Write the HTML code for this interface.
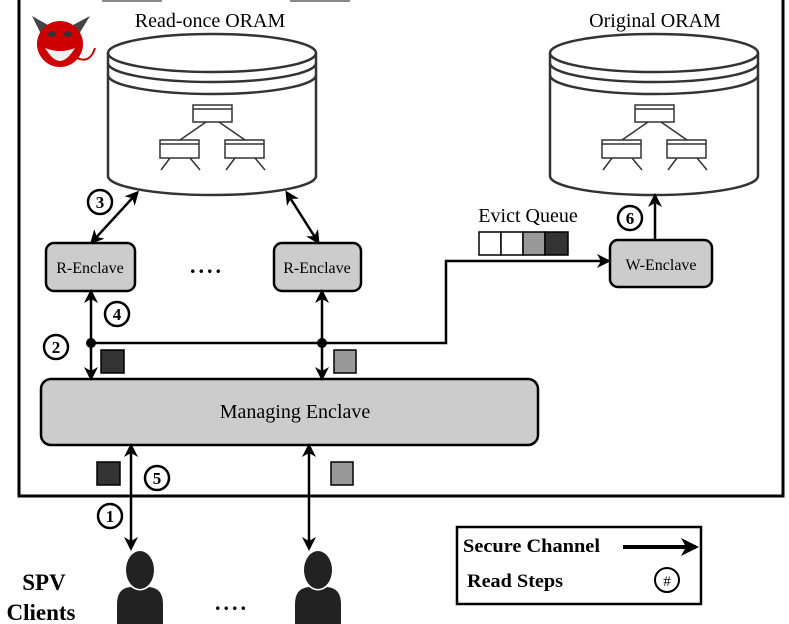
<!DOCTYPE html>
<html><head><meta charset="utf-8"><style>
body{margin:0;background:#fff}
svg{display:block;font-family:"Liberation Serif",serif}
</style></head><body>
<svg width="789" height="624" viewBox="0 0 789 624" xmlns="http://www.w3.org/2000/svg">
<defs>
<marker id="a" markerWidth="14" markerHeight="14" refX="11" refY="7" orient="auto-start-reverse" markerUnits="userSpaceOnUse"><path d="M0,0 L14,7 L0,14 L4,7 Z" fill="#000"/></marker>
<marker id="b" markerWidth="18" markerHeight="18" refX="15" refY="9" orient="auto" markerUnits="userSpaceOnUse"><path d="M0,0 L18,9 L0,18 L5,9 Z" fill="#000"/></marker>
<g id="cyl">
<path d="M0,20 L0,143 A104,19 0 0 0 208,143 L208,20" fill="#fff" stroke="#333" stroke-width="2.5"/>
<ellipse cx="104" cy="20" rx="104" ry="19" fill="#fff" stroke="#333" stroke-width="2.5"/>
<path d="M0,30 A104,19 0 0 0 208,30 M0,42 A104,19 0 0 0 208,42" fill="none" stroke="#333" stroke-width="2.5"/>
<g fill="#fff" stroke="#333" stroke-width="1.5">
<rect x="85" y="72" width="39" height="17"/><line x1="85" y1="76" x2="124" y2="76"/>
<rect x="52" y="107" width="39" height="18"/><line x1="52" y1="111" x2="91" y2="111"/>
<rect x="117" y="107" width="39" height="18"/><line x1="117" y1="111" x2="156" y2="111"/>
<path d="M98,89 L72,107 M111,89 L137,107 M62,125 L53,137 M82,125 L92,137 M127,125 L118,137 M147,125 L157,137" fill="none"/>
</g>
</g>
<g id="person" fill="#222"><ellipse cx="0" cy="16" rx="14" ry="19"/><path d="M-23,70 L-23,50 Q-23,34 -9,33 Q0,40 9,33 Q23,34 23,50 L23,70 Z"/></g>
</defs>
<path d="M19,0 L19,496 L783,496 L783,0" fill="none" stroke="#000" stroke-width="3"/>
<rect x="102" y="0" width="60" height="2" fill="#888"/><rect x="290" y="0" width="60" height="2" fill="#888"/>
<g transform="translate(60,40)">
<path d="M-28,-24 L-12,-15 L-19,-6 Z M30,-24 L13,-15 L19,-6 Z" fill="#444"/>
<circle cx="0" cy="4" r="23" fill="#c00"/>
<path d="M17,18 Q30,24 35,8" stroke="#c00" stroke-width="2" fill="none"/>
<path d="M-15,8 Q0,14 15,8 Q7,21 0,21 Q-7,21 -15,8 Z" fill="#eee"/>
<ellipse cx="-8" cy="-6" rx="4" ry="3" fill="#333"/><ellipse cx="8" cy="-6" rx="4" ry="3" fill="#333"/>
</g>
<text x="210" y="27" font-size="20" text-anchor="middle">Read-once ORAM</text>
<text x="655" y="27" font-size="20" text-anchor="middle">Original ORAM</text>
<use href="#cyl" x="108" y="33"/>
<use href="#cyl" x="550" y="33"/>
<g stroke="#000" stroke-width="2.5" fill="#ccc">
<rect x="46" y="243" width="89" height="48" rx="8"/>
<rect x="274" y="243" width="87" height="48" rx="8"/>
<rect x="610" y="240" width="102" height="47" rx="8"/>
<rect x="41" y="379" width="497" height="66" rx="10"/>
</g>
<g font-size="16" text-anchor="middle">
<text x="90" y="273">R-Enclave</text>
<text x="317" y="273">R-Enclave</text>
<text x="661" y="270">W-Enclave</text>
<text x="295" y="418" font-size="20">Managing Enclave</text>
<text x="528" y="222" font-size="20">Evict Queue</text>
</g>
<text x="207" y="273" font-size="22" text-anchor="middle" font-weight="bold" letter-spacing="3">....</text>
<text x="232" y="610" font-size="22" text-anchor="middle" font-weight="bold" letter-spacing="3">....</text>
<g stroke="#000" stroke-width="1.5">
<rect x="479" y="232" width="22" height="23" fill="#fff"/>
<rect x="501" y="232" width="22" height="23" fill="#fff"/>
<rect x="523" y="232" width="22" height="23" fill="#999"/>
<rect x="545" y="232" width="23" height="23" fill="#333"/>
<rect x="101" y="350" width="23" height="23" fill="#333"/>
<rect x="334" y="350" width="22" height="23" fill="#999"/>
<rect x="97" y="462" width="23" height="23" fill="#333"/>
<rect x="331" y="462" width="22" height="23" fill="#999"/>
</g>
<g stroke="#000" stroke-width="2.5" fill="none">
<line x1="137" y1="193" x2="92" y2="242" marker-start="url(#a)" marker-end="url(#a)"/>
<line x1="287" y1="193" x2="318" y2="242" marker-start="url(#a)" marker-end="url(#a)"/>
<line x1="91" y1="292" x2="91" y2="378" marker-start="url(#a)" marker-end="url(#a)"/>
<line x1="322" y1="292" x2="322" y2="378" marker-start="url(#a)" marker-end="url(#a)"/>
<polyline points="91,343 446,343 446,261 608,261" marker-end="url(#a)"/>
<line x1="655" y1="240" x2="655" y2="196" marker-end="url(#a)"/>
<line x1="131" y1="446" x2="131" y2="548" marker-start="url(#a)" marker-end="url(#a)"/>
<line x1="309" y1="446" x2="309" y2="548" marker-start="url(#a)" marker-end="url(#a)"/>
</g>
<circle cx="91" cy="343" r="5"/><circle cx="322" cy="343" r="5"/>
<g font-size="17" font-weight="bold" text-anchor="middle">
<g fill="#fff" stroke="#000" stroke-width="2.5">
<circle cx="100" cy="202" r="12"/><circle cx="117" cy="314" r="12"/><circle cx="56" cy="347" r="12"/>
<circle cx="157" cy="478" r="12"/><circle cx="110" cy="516" r="12"/><circle cx="630" cy="218" r="12"/>
<circle cx="667" cy="580" r="12" stroke-width="2"/>
</g>
<text x="100" y="208">3</text><text x="117" y="320">4</text><text x="56" y="353">2</text>
<text x="157" y="484">5</text><text x="110" y="522">1</text><text x="630" y="224">6</text>
<text x="667" y="586" font-weight="normal" font-size="15">#</text>
</g>
<rect x="457" y="527" width="244" height="77" fill="none" stroke="#000" stroke-width="2.5"/>
<text x="463" y="552" font-size="19" font-weight="bold" textLength="137" lengthAdjust="spacingAndGlyphs">Secure Channel</text>
<text x="467" y="587" font-size="19" font-weight="bold" textLength="96" lengthAdjust="spacingAndGlyphs">Read Steps</text>
<line x1="623" y1="547" x2="696" y2="547" stroke="#000" stroke-width="4" marker-end="url(#b)"/>
<text x="44" y="590" font-size="23" font-weight="bold" text-anchor="middle">SPV</text>
<text x="41" y="620" font-size="23" font-weight="bold" text-anchor="middle">Clients</text>
<use href="#person" x="140" y="554"/>
<use href="#person" x="318" y="554"/>
</svg>
</body></html>
